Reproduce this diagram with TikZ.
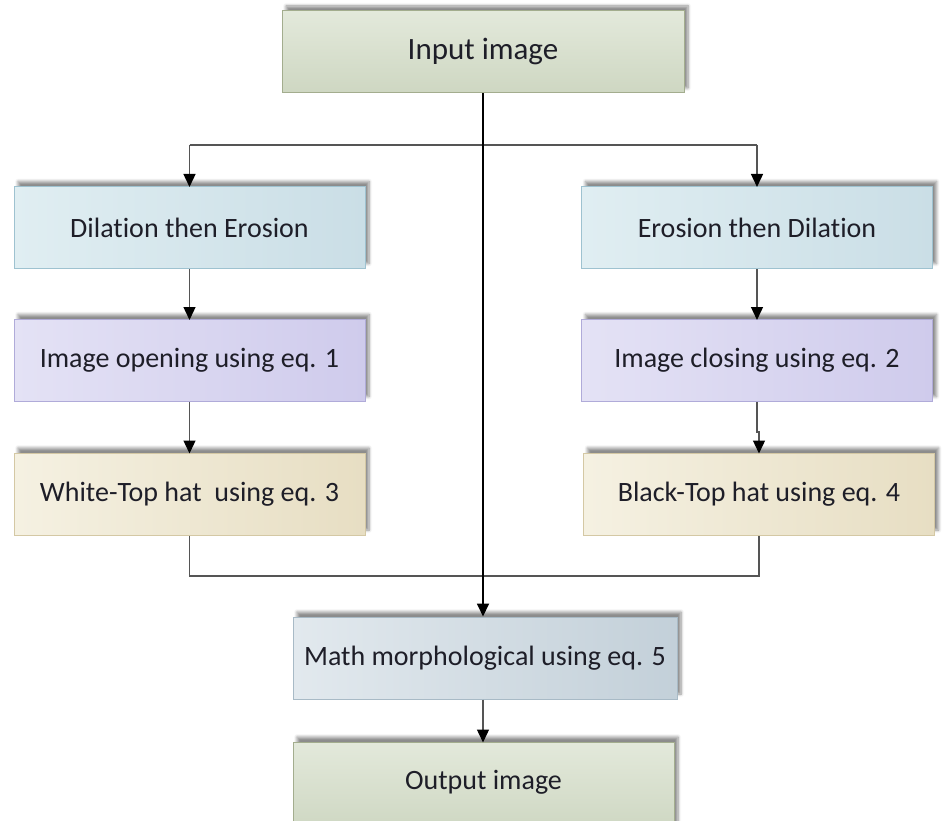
\documentclass[tikz,border=0pt]{standalone}
\usepackage{fontspec}
\setmainfont{Carlito}[Ligatures=NoCommon]
\usetikzlibrary{arrows.meta,shadows.blur}

\definecolor{txt}{HTML}{1E1E28}
\definecolor{wire}{HTML}{555555}
% box palettes: light / dark fill and border
\definecolor{grnA}{HTML}{E3E9DB}\definecolor{grnB}{HTML}{CED7C2}\definecolor{grnL}{HTML}{A3AD8E}
\definecolor{bluA}{HTML}{E0EEF2}\definecolor{bluB}{HTML}{CADEE6}\definecolor{bluL}{HTML}{9EC2D0}
\definecolor{purA}{HTML}{E4E2F5}\definecolor{purB}{HTML}{CFCBEC}\definecolor{purL}{HTML}{B0ABD9}
\definecolor{yelA}{HTML}{F5F1E2}\definecolor{yelB}{HTML}{E7DEC3}\definecolor{yelL}{HTML}{D4C8A4}
\definecolor{slaA}{HTML}{E2E9EE}\definecolor{slaB}{HTML}{C3D0D9}\definecolor{slaL}{HTML}{A8BAC6}

\tikzset{
  box/.style={rectangle, draw, line width=1pt, text=txt, font=\fontsize{28}{31}\selectfont,
    minimum width=351pt, minimum height=82pt, inner sep=0pt,
    blur shadow={shadow xshift=4pt, shadow yshift=5pt, shadow opacity=45,
      shadow blur radius=3pt, shadow blur steps=6}},
  greenbox/.style={box, draw=grnL, top color=grnA, bottom color=grnB},
  bluebox/.style={box, draw=bluL, left color=bluA, right color=bluB},
  purplebox/.style={box, draw=purL, left color=purA, right color=purB},
  creambox/.style={box, draw=yelL, left color=yelA, right color=yelB},
  slatebox/.style={box, draw=slaL, left color=slaA, right color=slaB},
  tip/.tip={Triangle[width=12pt,length=13pt,color=black,fill=black]},
  link/.style={draw=wire, line width=1.4pt},
  flow/.style={link, -tip, shorten >=-1pt},
  trunk/.style={draw=black, line width=1.8pt, -tip},
}

\begin{document}
\begin{tikzpicture}[x=1pt,y=-1pt]
  \useasboundingbox (0,0) rectangle (942,821);

  % boxes
  \node[greenbox, minimum width=402pt, font=\fontsize{31}{34}\selectfont] (in) at (483,52) {Input image};
  \node[bluebox]   (d1) at (189.5,227.5) {Dilation then Erosion};
  \node[bluebox]   (e1) at (757,227.5)   {Erosion then Dilation};
  \node[purplebox] (o1) at (189.5,360.5) {Image opening using eq. 1};
  \node[purplebox] (c1) at (757,360.5)   {Image closing using eq. 2};
  \node[creambox]  (w1) at (189.5,494)   {White-Top hat\ \ using eq. 3};
  \node[creambox]  (b1) at (759,494)     {Black-Top hat using eq. 4};
  \node[slatebox, minimum width=384pt] (m1) at (485,658) {Math morphological using eq. 5};
  \node[greenbox, minimum width=381pt, minimum height=88pt] (out) at (483.5,786) {};
  \node[text=txt, font=\fontsize{28}{31}\selectfont] (outlbl) at (483.5,782) {Output image};

  % split from the input
  \coordinate (split) at (in.south |- 0,145);
  \draw[link] (d1.north |- split) -- (e1.north |- split);
  \draw[flow] (d1.north |- split) -- (d1.north);
  \draw[flow] (e1.north |- split) -- (e1.north);

  % left branch
  \draw[flow] (d1) -- (o1);
  \draw[flow] (o1) -- (w1);

  % right branch
  \draw[flow] (e1) -- (c1);
  \coordinate (jog) at (c1.south |- 0,432);
  \draw[flow] (c1.south) -- (jog) -- (b1.north |- jog) -- (b1.north);

  % merge into the combining step
  \coordinate (merge) at (0,576);
  \draw[link] (w1.south) -- (w1.south |- merge) -- (b1.south |- merge) -- (b1.south);
  \draw[trunk] (in.south) -- (in.south |- m1.north);

  % final step
  \draw[flow] (m1.south -| in.south) -- (in.south |- out.north);
\end{tikzpicture}
\end{document}
